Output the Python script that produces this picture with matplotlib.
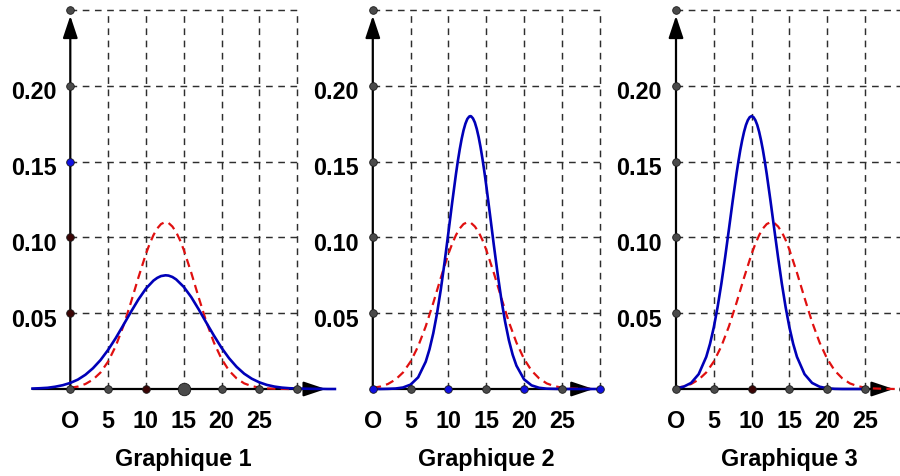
import matplotlib
matplotlib.use("Agg")
import matplotlib.pyplot as plt

plt.rcParams["font.family"] = ["Liberation Sans", "DejaVu Sans"]
plt.rcParams["font.weight"] = "bold"
plt.rcParams["lines.scale_dashes"] = False

# ---------------- data ----------------
panel_titles = ["Graphique 1", "Graphique 2", "Graphique 3"]
x_tick_values = [0, 5, 10, 15, 20, 25]
x_tick_labels = ["O", "5", "10", "15", "20", "25"]
y_tick_values = [0.05, 0.10, 0.15, 0.20]
y_tick_labels = ["0.05", "0.10", "0.15", "0.20"]
grid_x = [5, 10, 15, 20, 25, 30]
grid_y = [0.05, 0.10, 0.15, 0.20, 0.25]

# red dashed curve (same in the three panels)
red_x = [0, 1, 2, 3, 4, 5, 6, 7, 8, 9, 10, 10.5, 11, 11.5, 12, 12.5, 13, 13.5, 14,
         14.5, 15, 16, 17, 18, 19, 20, 21, 22, 23, 24, 25, 26, 27, 28, 29, 30]
red_y = [0.0008, 0.0016, 0.0033, 0.0062, 0.0109, 0.0181, 0.0282, 0.0413, 0.0568,
         0.0734, 0.0891, 0.0958, 0.1015, 0.1059, 0.1088, 0.1100, 0.1095, 0.1072,
         0.1035, 0.0983, 0.0919, 0.0767, 0.0601, 0.0442, 0.0306, 0.0199, 0.0121,
         0.0070, 0.0037, 0.0019, 0.0009, 0.0004, 0.0002, 0.0001, 0.0, 0.0]

# blue curve, Graphique 1
blue1_x = [-5, -4, -3, -2, -1, 0, 1, 2, 3, 4, 5, 6, 7, 8, 9, 10, 11, 11.5, 12, 12.6,
           13, 13.5, 14, 15, 16, 17, 18, 19, 20, 21, 22, 23, 24, 25, 26, 27, 28, 29,
           30, 31, 32, 33, 34, 35]
blue1_y = [0.0003, 0.0005, 0.0008, 0.0015, 0.0025, 0.0040, 0.0062, 0.0094, 0.0137,
           0.0191, 0.0258, 0.0335, 0.0420, 0.0507, 0.0590, 0.0662, 0.0715, 0.0733,
           0.0745, 0.0750, 0.0748, 0.0739, 0.0723, 0.0674, 0.0606, 0.0524, 0.0437,
           0.0352, 0.0272, 0.0203, 0.0146, 0.0101, 0.0068, 0.0044, 0.0027, 0.0016,
           0.0009, 0.0005, 0.0003, 0.0002, 0.0001, 0.0001, 0.0, 0.0]

# blue curve, Graphique 2
blue2_x = [0, 1, 2, 3, 4, 5, 6, 7, 7.5, 8, 8.5, 9, 9.5, 10, 10.5, 11, 11.25, 11.5,
           11.75, 12, 12.25, 12.5, 12.75, 12.9, 13, 13.25, 13.5, 13.75, 14, 14.25,
           14.5, 14.75, 15, 15.5, 16, 16.5, 17, 17.5, 18, 18.5, 19, 20, 21, 22, 23,
           24, 25, 26, 27, 28, 29, 30]
blue2_y = [0.0, 0.0, 0.0001, 0.0003, 0.0010, 0.0029, 0.0077, 0.0180, 0.0262, 0.0368,
           0.0500, 0.0658, 0.0838, 0.1032, 0.1230, 0.1418, 0.1504, 0.1581, 0.1649,
           0.1706, 0.1750, 0.1781, 0.1797, 0.1800, 0.1799, 0.1785, 0.1758, 0.1716,
           0.1662, 0.1596, 0.1520, 0.1436, 0.1345, 0.1151, 0.0953, 0.0764, 0.0592,
           0.0444, 0.0322, 0.0226, 0.0154, 0.0064, 0.0024, 0.0008, 0.0002, 0.0001,
           0.0, 0.0, 0.0, 0.0, 0.0, 0.0]

# blue curve, Graphique 3
blue3_x = [0, 1, 2, 3, 4, 4.5, 5, 5.5, 6, 6.5, 7, 7.5, 8, 8.25, 8.5, 8.75, 9, 9.25,
           9.5, 9.75, 10, 10.25, 10.5, 10.75, 11, 11.25, 11.5, 11.75, 12, 12.5, 13,
           13.5, 14, 14.5, 15, 15.5, 16, 17, 18, 19, 20, 21, 22, 23, 24, 25]
blue3_y = [0.0005, 0.0015, 0.0040, 0.0098, 0.0212, 0.0298, 0.0407, 0.0540, 0.0695,
           0.0869, 0.1054, 0.1241, 0.1419, 0.1500, 0.1575, 0.1640, 0.1696, 0.1741,
           0.1773, 0.1793, 0.1800, 0.1793, 0.1773, 0.1741, 0.1696, 0.1640, 0.1575,
           0.1500, 0.1419, 0.1241, 0.1054, 0.0869, 0.0695, 0.0540, 0.0407, 0.0298,
           0.0212, 0.0098, 0.0040, 0.0015, 0.0005, 0.0001, 0.0, 0.0, 0.0, 0.0]

blue_curves = [(blue1_x, blue1_y), (blue2_x, blue2_y), (blue3_x, blue3_y)]

# ---------------- layout / styles ----------------
W, H = 900, 477
fig = plt.figure(figsize=(9.0, 4.77), dpi=100)

SX = 7.56     # pixels per x unit
SY = 1516.0   # pixels per y unit
XL = (-6.0, 36.0)
YL = (-0.06, 0.26)
origins = [(70.3, 390.0), (372.8, 390.0), (676.0, 390.0)]
x_arrow = [(-5, 33.8), (0, 29.2), (0, 28.8)]

BLUE = "#0000B8"
RED = "#E01010"
GRID = "#2e2e2e"
DOT = "#4a4a4a"
DOT_BLUE = "#1010E0"
DOT_RED = "#3a0505"
FS = 16.8

x_dot_colors = [
    [DOT, DOT, DOT_RED, DOT, DOT, DOT, DOT],
    [DOT_BLUE, DOT, DOT_BLUE, DOT, DOT_BLUE, DOT, DOT_BLUE],
    [DOT, DOT, DOT_RED, DOT, DOT, DOT, DOT],
]
y_dot_colors = [
    [DOT_RED, DOT_RED, DOT_BLUE, DOT, DOT],
    [DOT, DOT, DOT, DOT, DOT],
    [DOT, DOT, DOT, DOT, DOT],
]

for i, (ox, oy) in enumerate(origins):
    left = (ox + XL[0] * SX) / W
    width = (XL[1] - XL[0]) * SX / W
    bottom = 1 - (oy - YL[0] * SY) / H
    height = (YL[1] - YL[0]) * SY / H
    ax = fig.add_axes([left, bottom, width, height])
    ax.set_xlim(XL)
    ax.set_ylim(YL)
    ax.patch.set_visible(False)
    for s in ax.spines.values():
        s.set_visible(False)
    ax.set_xticks([])
    ax.set_yticks([])

    # dashed grid
    ax.vlines(grid_x, 0, 0.25, colors=GRID, linewidth=1.05,
              linestyles=(0, (4.8, 4.0)), zorder=1)
    ax.hlines(grid_y, 0, 30, colors=GRID, linewidth=1.05,
              linestyles=(0, (4.8, 4.0)), zorder=1)

    # axes with arrows
    arrow = dict(arrowstyle="-|>,head_length=1.35,head_width=0.45", lw=1.6,
                 color="black", shrinkA=0, shrinkB=0, mutation_scale=10)
    ax.annotate("", xy=(0, 0.2462), xytext=(0, 0), arrowprops=arrow, zorder=3)
    xa, xb = x_arrow[i]
    ax.annotate("", xy=(xb, 0), xytext=(xa, 0), arrowprops=arrow, zorder=3)

    # curves
    ax.plot(red_x, red_y, color=RED, lw=1.6, linestyle=(0, (6.0, 3.8)), zorder=4)
    bx, by = blue_curves[i]
    ax.plot(bx, by, color=BLUE, lw=1.9, zorder=5, solid_joinstyle="round")

    # dots on axes
    dot_x = [0, 5, 10, 15, 20, 25, 30]
    for xv, c in zip(dot_x, x_dot_colors[i]):
        ms = 9 if (i == 0 and xv == 15) else 5.5
        ax.plot([xv], [0], marker="o", ms=ms, color=c, mec="#1a1a1a", mew=0.6,
                zorder=6, clip_on=False)
    for yv, c in zip(grid_y, y_dot_colors[i]):
        ax.plot([0], [yv], marker="o", ms=5.5, color=c, mec="#1a1a1a", mew=0.6,
                zorder=6, clip_on=False)

    # tick labels
    for v, lab in zip(y_tick_values, y_tick_labels):
        ax.annotate(lab, xy=(0, v), xytext=(-14, -12.4), textcoords="offset pixels",
                    ha="right", va="baseline", fontsize=FS, fontweight="bold")
    for v, lab in zip(x_tick_values, x_tick_labels):
        ax.annotate(lab, xy=(v, 0), xytext=(0, -38), textcoords="offset pixels",
                    ha="center", va="baseline", fontsize=FS, fontweight="bold")
    ax.annotate(panel_titles[i], xy=(15, 0), xytext=(0, -76.5),
                textcoords="offset pixels", ha="center", va="baseline",
                fontsize=FS, fontweight="bold")

fig.savefig("out.png", dpi=100)
